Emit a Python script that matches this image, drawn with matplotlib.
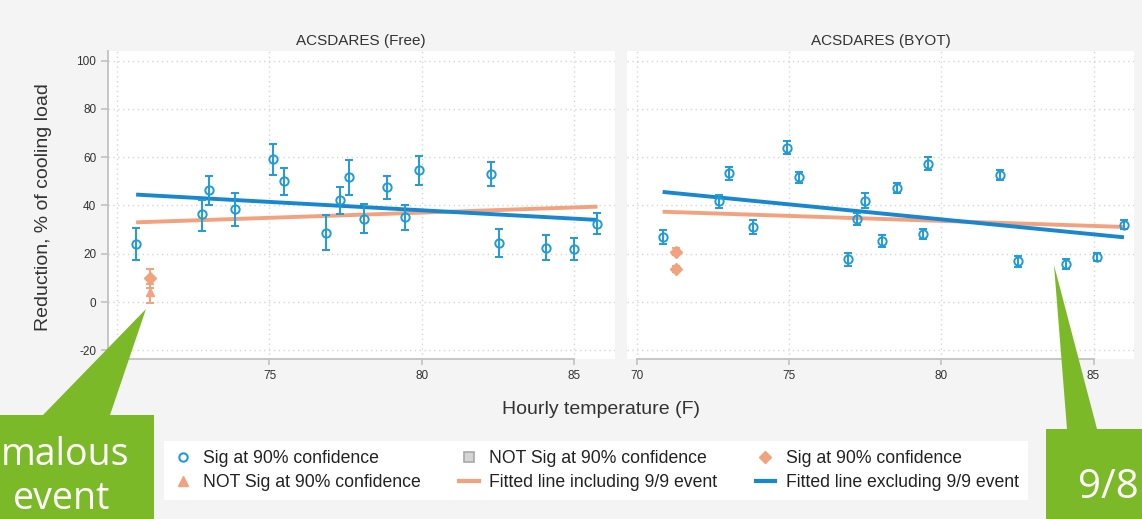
import numpy as np
import matplotlib
matplotlib.use("Agg")
import matplotlib.pyplot as plt
from matplotlib.lines import Line2D
from matplotlib.patches import Polygon

# ACSDARES (Free) - significant points
free_x = [70.62, 72.79, 73.01, 73.87, 75.13, 75.48, 76.86, 77.30, 77.60,
          78.10, 78.87, 79.44, 79.90, 82.27, 82.55, 84.08, 84.99, 85.77]
free_y = [24.0, 36.3, 46.3, 38.5, 59.1, 50.0, 28.7, 42.1, 51.7,
          34.4, 47.7, 35.1, 54.6, 53.2, 24.3, 22.5, 22.0, 32.5]
free_lo = [17.3, 29.6, 40.2, 31.6, 52.5, 44.3, 21.5, 36.5, 44.3,
           28.5, 42.8, 30.0, 48.6, 48.2, 18.5, 17.5, 17.5, 28.3]
free_hi = [30.8, 42.3, 52.3, 45.3, 65.6, 55.7, 35.9, 47.8, 58.8,
           40.5, 52.3, 40.3, 60.6, 58.1, 30.2, 27.6, 26.4, 36.7]
# 9/9 event (Free)
free_ev_sig = (71.08, 9.8, 6.0, 13.8)
free_ev_nsig = (71.08, 4.3, -0.3, 7.5)
# fitted lines (Free)
free_fit_x = [70.62, 85.77]
free_fit_excl = [44.5, 34.0]
free_fit_incl = [33.0, 39.5]

# ACSDARES (BYOT)
byot_x = [70.85, 72.71, 73.03, 73.83, 74.94, 75.34, 76.94, 77.24, 77.51,
          78.05, 78.55, 79.40, 79.55, 81.92, 82.53, 84.09, 85.10, 86.00]
byot_y = [26.8, 41.9, 53.3, 30.9, 63.9, 51.7, 17.7, 34.3, 41.9,
          25.4, 47.2, 28.3, 57.3, 52.6, 16.9, 15.9, 18.8, 32.0]
byot_lo = [23.9, 39.1, 50.7, 28.0, 61.3, 49.2, 14.9, 31.8, 38.8,
           22.9, 45.3, 26.2, 54.6, 50.6, 14.6, 13.8, 17.0, 30.4]
byot_hi = [29.8, 44.2, 55.9, 33.8, 66.7, 54.0, 20.2, 36.7, 45.0,
           27.8, 49.2, 30.4, 60.0, 54.7, 19.0, 18.0, 20.4, 34.0]
byot_ev_x = [71.29, 71.29]
byot_ev_y = [20.9, 13.7]
byot_ev_err = [1.3, 1.3]
byot_fit_x = [70.85, 86.0]
byot_fit_excl = [45.6, 26.8]
byot_fit_incl = [37.4, 31.1]

titles = ["ACSDARES (Free)", "ACSDARES (BYOT)"]
x_ticks = [70, 75, 80, 85]
y_ticks = [-20, 0, 20, 40, 60, 80, 100]

legend_labels = ["Sig at 90% confidence", "NOT Sig at 90% confidence",
                 "NOT Sig at 90% confidence", "Fitted line including 9/9 event",
                 "Sig at 90% confidence", "Fitted line excluding 9/9 event"]

blue = "#1f9bd7"
blue_line = "#1787cf"
orange = "#f2a27e"
green = "#7cb928"
grid_c = "#d6d6d6"
spine_c = "#c2c2c2"
text_c = "#333333"

W, H = 1142, 519
def fx(x):
    return x / W
def fy(y):
    return 1 - y / H

plt.rcParams["font.family"] = ["Liberation Sans", "DejaVu Sans"]
plt.rcParams["axes.unicode_minus"] = False
fig = plt.figure(figsize=(11.42, 5.19), dpi=100, facecolor="#f4f4f4")

top, bot = 50.7, 359
ax1 = fig.add_axes([fx(107.5), fy(bot), (614.5 - 107.5) / W, (bot - top) / H])
ax2 = fig.add_axes([fx(627), fy(bot), (1134 - 627) / W, (bot - top) / H])


def panel(ax, x, y, lo, hi, fit_x, excl, incl, title):
    x = np.array(x); y = np.array(y)
    ax.set_facecolor("white")
    ax.set_xlim(69.68, 86.33)
    ax.set_ylim(-23.6, 104.1)
    ax.set_xticks(x_ticks)
    ax.set_yticks(y_ticks)
    ax.grid(True, ls=(0, (1, 2.5)), color=grid_c, lw=1.0)
    ax.set_axisbelow(True)
    for s in ["top", "right"]:
        ax.spines[s].set_visible(False)
    ax.spines["bottom"].set_color(spine_c)
    ax.spines["bottom"].set_linewidth(1.3)
    ax.spines["left"].set_color(spine_c)
    ax.spines["left"].set_linewidth(1.3)
    ax.tick_params(axis="x", length=4, width=1.2, color=spine_c, pad=4,
                   labelsize=8.5, labelcolor=text_c)
    ax.tick_params(axis="y", length=5, width=1.2, color=spine_c, pad=3,
                   labelsize=8.5, labelcolor=text_c)
    ax.plot(fit_x, incl, color=orange, lw=2.8, solid_capstyle="butt", zorder=2)
    ax.plot(fit_x, excl, color=blue_line, lw=2.8, solid_capstyle="butt", zorder=2.1)
    ax.errorbar(x, y, yerr=[y - np.array(lo), np.array(hi) - y], fmt="o",
                mfc="none", mec=blue, ms=6, mew=1.4, ecolor=blue,
                elinewidth=1.4, capsize=3, capthick=1.4, zorder=3)
    fig.text((ax.get_position().x0 + ax.get_position().x1) / 2, fy(40.7), title,
             ha="center", va="center", fontsize=11, color=text_c)


panel(ax1, free_x, free_y, free_lo, free_hi, free_fit_x, free_fit_excl,
      free_fit_incl, titles[0])
panel(ax2, byot_x, byot_y, byot_lo, byot_hi, byot_fit_x, byot_fit_excl,
      byot_fit_incl, titles[1])

# 9/9 event points
for (ex, ey, elo, ehi), mk in [(free_ev_sig, "D"), (free_ev_nsig, "^")]:
    ax1.errorbar([ex], [ey], yerr=[[ey - elo], [ehi - ey]], fmt=mk, color=orange,
                 ms=6, ecolor=orange, elinewidth=1.4, capsize=3, capthick=1.4, zorder=3)
ax2.errorbar(byot_ev_x, byot_ev_y, yerr=byot_ev_err, fmt="D", color=orange, ms=6.5,
             ecolor=orange, elinewidth=1.4, capsize=3, capthick=1.4, zorder=3)

ax1.spines["bottom"].set_bounds(69.68, 85)
ax2.spines["bottom"].set_bounds(70, 85)
ax2.spines["left"].set_visible(False)
ax2.tick_params(axis="y", length=0, labelleft=False)

fig.text(fx(44), fy(207), "Reduction, % of cooling load", rotation=90,
         ha="center", va="center", fontsize=14, color=text_c)
fig.text(fx(601), fy(410), "Hourly temperature (F)", ha="center", va="center",
         fontsize=14, color=text_c)

handles = [
    Line2D([], [], ls="none", marker="o", mfc="none", mec=blue, ms=6, mew=1.5),
    Line2D([], [], ls="none", marker="^", color=orange, ms=7),
    Line2D([], [], ls="none", marker="s", mfc="#d4d4d4", mec="#a8a8a8", ms=6.5, mew=1.2),
    Line2D([], [], color=orange, lw=3),
    Line2D([], [], ls="none", marker="D", color=orange, ms=6),
    Line2D([], [], color=blue_line, lw=3),
]
leg = fig.legend(handles, legend_labels, ncol=3, loc="center",
                 bbox_to_anchor=(fx(596), fy(470.5)), frameon=True,
                 fancybox=False, edgecolor="none", facecolor="white",
                 framealpha=1, fontsize=12.7, handlelength=1.1,
                 handletextpad=0.6, columnspacing=2.17, labelspacing=0.42,
                 borderpad=0.5)
for t in leg.get_texts():
    t.set_color("#222222")

# green callouts
left_call = [(-5, 415), (43, 415), (146, 309), (110, 415), (154, 415),
             (154, 525), (-5, 525)]
right_call = [(1046, 429), (1067, 429), (1054, 265), (1097, 429), (1150, 429),
              (1150, 525), (1046, 525)]
for pts in (left_call, right_call):
    fig.add_artist(Polygon([(fx(a), fy(b)) for a, b in pts], closed=True,
                           facecolor=green, edgecolor="none",
                           transform=fig.transFigure, zorder=10))

call_font = ["Open Sans", "DejaVu Sans"]
fig.text(fx(1), fy(465), "malous", ha="left", va="baseline", color="white",
         fontsize=27, family=call_font, zorder=11)
fig.text(fx(110), fy(509), "event", ha="right", va="baseline", color="white",
         fontsize=27, family=call_font, zorder=11)
fig.text(fx(1078), fy(498), "9/8", ha="left", va="baseline", color="white",
         fontsize=29, family=call_font, zorder=11)

fig.savefig("out.png", dpi=100, facecolor=fig.get_facecolor())
